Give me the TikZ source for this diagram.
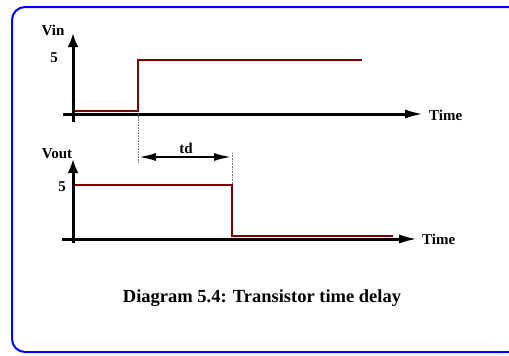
\documentclass[tikz,border=0pt]{standalone}
\usepackage{fontspec}
\setmainfont{Liberation Serif}
\usepackage{xcolor}
\usetikzlibrary{arrows.meta,positioning}
\definecolor{sigred}{HTML}{800000}

\begin{document}
\begin{tikzpicture}[x=1pt,y=-1pt,
  vaxis/.style={line width=3pt, -{Latex[length=14pt,width=11pt]}},
  haxis/.style={line width=3pt, -{Latex[length=19pt,width=9pt]}},
  signal/.style={draw=sigred, line width=2.2pt},
  guide/.style={densely dotted, black!55, line width=0.6pt},
  delay/.style={line width=2.5pt, {Latex[length=18pt,width=8pt]}-{Latex[length=18pt,width=8pt]}},
  lbl/.style={font=\fontsize{15}{18}\selectfont\bfseries, inner sep=0pt, anchor=base},
  frame/.style={draw=blue, line width=2pt, rounded corners=13pt}
]
\useasboundingbox (0,0) rectangle (509,356);
\draw[frame] (12,7) rectangle (521,352);

% input waveform
\coordinate (vinBot) at (73,122);
\coordinate (vinTop) at (73,33);
\coordinate (tinL) at (63,114);
\coordinate (tinR) at (424,114);
\draw[vaxis] (vinBot) -- (vinTop);
\draw[haxis] (tinL) -- (tinR);
\node[lbl] (vin) at (53,35) {Vin};
\node[lbl] (vinfive) at (54,62) {5};
\node[lbl, anchor=base west] (tin) at (429,120) {Time};
\draw[signal] (75,111) -- (138,111) -- (138,60) -- (362,60);

% delay marker
\coordinate (tdL) at (138,157);
\coordinate (tdR) at (232,157);
\draw[guide] (138,114) -- (138,163);
\draw[guide] (232,153) -- (232,185);
\draw[delay] (tdL) -- (tdR);
\node[lbl] (td) at (186,153) {td};

% output waveform
\coordinate (voutBot) at (73,243);
\coordinate (voutTop) at (73,159);
\coordinate (toutL) at (62,239);
\coordinate (toutR) at (418,239);
\draw[vaxis] (voutBot) -- (voutTop);
\draw[haxis] (toutL) -- (toutR);
\node[lbl] (vout) at (57,158) {Vout};
\node[lbl] (voutfive) at (62,191) {5};
\node[lbl, anchor=base west] (tout) at (422,244) {Time};
\draw[signal] (75,185) -- (232,185) -- (232,236) -- (393,236);

\node[font=\fontsize{18.5}{22}\selectfont\bfseries, inner sep=0pt, anchor=base] (caption) at (262,302) {Diagram 5.4: Transistor time delay};
\end{tikzpicture}
\end{document}
